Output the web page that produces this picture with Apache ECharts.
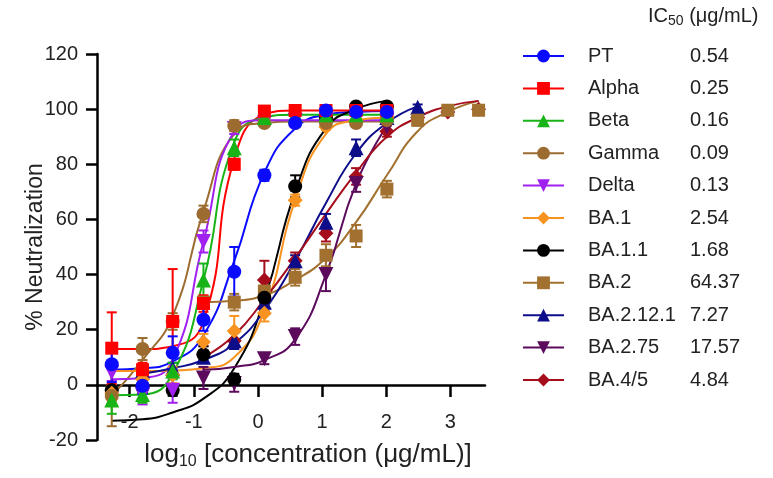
<!DOCTYPE html>
<html>
<head>
<meta charset="utf-8">
<script src="https://cdn.jsdelivr.net/npm/echarts@6/dist/echarts.min.js"></script>
<style>
  html, body { margin: 0; padding: 0; background: #fff; }
  #chart { width: 773px; height: 478px; }
</style>
</head>
<body>
<div id="chart"></div>
<script>
const variants = ['PT', 'Alpha', 'Beta', 'Gamma', 'Delta', 'BA.1', 'BA.1.1', 'BA.2', 'BA.2.12.1', 'BA.2.75', 'BA.4/5']
const ic50 = ['0.54', '0.25', '0.16', '0.09', '0.13', '2.54', '1.68', '64.37', '7.27', '17.57', '4.84']
const xTicks = [-2, -1, 0, 1, 2, 3]

// log10 concentrations (3-fold dilutions)
const xLow = [-2.28, -1.80, -1.33, -0.85, -0.37, 0.10, 0.58, 1.06, 1.53, 2.01]
const xMid = [-1.80, -1.33, -0.85, -0.37, 0.10, 0.58, 1.06, 1.53, 2.01, 2.49]
const xHigh = [-0.85, -0.37, 0.10, 0.58, 1.06, 1.53, 2.01, 2.49, 2.96, 3.44]
const xBA275 = [-0.85, -0.37, 0.10, 0.58, 1.06, 1.53, 2.01]

const ptMean = [7.5, -0.3, 11.6, 23.6, 41, 76, 95, 99.5, 99, 99]
const ptSd = [6.5, 3, 6, 4, 9, 2, 1.5, 1, 1, 1]
const ptFit = [5.5, 6, 8.5, 18, 45, 77, 93, 98, 99, 99.3]

const alphaMean = [13.3, 5.5, 23, 29.5, 80, 99.3, 99.5, 99.5, 99.5, 99.5]
const alphaSd = [13, 2.5, 19, 3, 2, 1, 1, 1, 1, 1]
const alphaFit = [13, 13, 14, 23, 82, 98, 99.5, 99.5, 99.5, 99.5]

const betaMean = [-5.5, -3.5, 5, 38, 86, 97, 98, 98, 98, 98]
const betaSd = [5, 3, 3, 6, 3, 1, 1, 1, 1, 1]
const betaFit = [-3.8, -3.5, 4, 38, 88, 97, 98, 98, 98, 98]

const gammaMean = [-4, 13, 23, 62, 94, 95, 95, 95, 95, 96]
const gammaSd = [11, 4, 3, 3, 2, 1, 1, 1, 1, 1]
const gammaFit = [-4, 9, 25, 63, 91, 95, 95.5, 95.5, 95.5, 95.5]

const deltaMean = [4.4, -3.6, -2, 52, 93, 95, 96, 96, 96, 96]
const deltaSd = [3, 3.5, 4.5, 4, 2, 1, 1, 1, 1, 1]
const deltaFit = [2, 2.5, 9, 52, 92, 96, 96, 96, 96, 96]

const ba1Mean = [-3, 2, 3.6, 15.5, 19.5, 26, 67, 93.5, 96, 97]
const ba1Sd = [3, 3, 3, 3, 5.5, 3, 2, 1, 1, 1]
const ba1Fit = [5, 5, 5.2, 6, 10, 27, 67, 91, 96, 97]

const ba11Mean = [-2, -1, -2, 11, 2, 31.6, 72, 97, 101, 101]
const ba11Sd = [2, 2, 2, 3, 2, 2, 4, 1, 1, 1]
const ba11Fit = [-13, -12.5, -10, -5, 6, 31, 70, 93, 100, 103]

const ba2Mean = [30, 30, 34, 39, 47, 54, 71, 96, 99.6, 99.6]
const ba2Sd = [2, 3, 2, 3, 4, 4, 3, 2, 1, 1]
const ba2Fit = [30, 30.5, 32.5, 38, 46, 59, 76, 92, 99, 103]

const ba2121Mean = [5, 6, 10, 16, 30, 45, 59, 86, 97, 100.7]
const ba2121Sd = [2, 2, 2, 3, 3, 2, 3, 3, 2, 1]
const ba2121Fit = [4, 6, 9, 15, 27, 45, 66, 84, 95, 101]

const ba275Mean = [2.5, 0.5, 9.5, 17.5, 40, 73, 93.5]
const ba275Sd = [4, 3, 2, 3, 6, 3, 2]
const ba275Fit = [5.5, 6.5, 9, 16.5, 40, 73, 94]

const ba45Mean = [11, 16, 38, 45, 55, 75.6, 92, 97, 99, 100]
const ba45Sd = [3, 3, 7, 3, 3, 3, 2, 1, 1, 1]
const ba45Fit = [10, 18, 31, 46, 62, 77, 90, 97, 101, 103]

const colors = ['#0a0aff', '#ff0000', '#17b317', '#9c6b30', '#a020f0', '#f7931e', '#000000', '#a2712f', '#0d0d8a', '#5c0a5c', '#a50d1d']
const symbols = ['circle', 'rect', 'triangle', 'circle', 'triangle', 'diamond', 'circle', 'rect', 'triangle', 'triangle', 'diamond']
const rotates = [0, 0, 0, 0, 180, 0, 0, 0, 0, 180, 0]
const sizes = [14, 13, 15, 14, 15, 15, 14, 13, 15, 15, 15]

const groups = [
  [xLow, ptMean, ptSd, ptFit],
  [xLow, alphaMean, alphaSd, alphaFit],
  [xLow, betaMean, betaSd, betaFit],
  [xLow, gammaMean, gammaSd, gammaFit],
  [xLow, deltaMean, deltaSd, deltaFit],
  [xLow, ba1Mean, ba1Sd, ba1Fit],
  [xLow, ba11Mean, ba11Sd, ba11Fit],
  [xHigh, ba2Mean, ba2Sd, ba2Fit],
  [xMid, ba2121Mean, ba2121Sd, ba2121Fit],
  [xBA275, ba275Mean, ba275Sd, ba275Fit],
  [xHigh, ba45Mean, ba45Sd, ba45Fit]
]

const font = '"Liberation Sans", Arial, sans-serif'

function renderError(params, api) {
  const x = api.value(0)
  const lo = api.coord([x, api.value(1)])
  const hi = api.coord([x, api.value(2)])
  const cap = 5
  const style = { stroke: api.visual('color'), lineWidth: 2 }
  return {
    type: 'group',
    children: [
      { type: 'line', shape: { x1: lo[0], y1: lo[1], x2: hi[0], y2: hi[1] }, style },
      { type: 'line', shape: { x1: hi[0] - cap, y1: hi[1], x2: hi[0] + cap, y2: hi[1] }, style },
      { type: 'line', shape: { x1: lo[0] - cap, y1: lo[1], x2: lo[0] + cap, y2: lo[1] }, style }
    ]
  }
}

const lineSeries = []
const errorSeries = []
const pointSeries = []
groups.forEach((g, i) => {
  const [xs, mean, sd, fit] = g
  const name = variants[i]
  lineSeries.push({
    type: 'line',
    name,
    data: xs.map((x, k) => [x, fit[k]]),
    smooth: 0.5,
    showSymbol: false,
    symbol: symbols[i],
    symbolRotate: rotates[i],
    symbolSize: sizes[i],
    lineStyle: { color: colors[i], width: 2 },
    itemStyle: { color: colors[i] },
    silent: true,
    z: 2
  })
  errorSeries.push({
    type: 'custom',
    name,
    renderItem: renderError,
    data: xs.map((x, k) => [x, mean[k] - sd[k], mean[k] + sd[k]]),
    encode: { x: 0, y: [1, 2] },
    itemStyle: { color: colors[i] },
    silent: true,
    z: 20 - i
  })
  pointSeries.push({
    type: 'scatter',
    name,
    data: xs.map((x, k) => [x, mean[k]]),
    symbol: symbols[i],
    symbolRotate: rotates[i],
    symbolSize: sizes[i],
    itemStyle: { color: colors[i], opacity: 1 },
    silent: true,
    z: 40 - i
  })
})

const chart = echarts.init(document.getElementById('chart'))
chart.setOption({
  animation: false,
  textStyle: { fontFamily: font },
  grid: { left: 97, right: 288, top: 54, bottom: 38, outerBoundsMode: 'none', containLabel: false },
  xAxis: {
    type: 'value',
    min: -2.51,
    max: 3.54,
    offset: -55,
    name: '{a|log}{s|10}{a| [concentration (μg/mL)]}',
    nameLocation: 'middle',
    nameGap: 55,
    nameMoveOverlap: false,
    nameTextStyle: {
      padding: [0, 0, 0, 34],
      rich: {
        a: { fontSize: 26, lineHeight: 30, color: '#222', fontFamily: font },
        s: { fontSize: 16, lineHeight: 12, verticalAlign: 'bottom', color: '#222', fontFamily: font }
      }
    },
    axisLine: { onZero: false, lineStyle: { color: '#000', width: 2.5 } },
    axisTick: { customValues: xTicks, length: 12, lineStyle: { color: '#000', width: 2.5 } },
    axisLabel: { customValues: xTicks, margin: 27, fontSize: 20, color: '#222', fontFamily: font },
    splitLine: { show: false }
  },
  yAxis: {
    type: 'value',
    min: -20,
    max: 120,
    interval: 20,
    name: '% Neutralization',
    nameLocation: 'middle',
    nameGap: 50,
    nameMoveOverlap: false,
    nameTextStyle: { fontSize: 23, color: '#222', fontFamily: font },
    axisLine: { onZero: false, lineStyle: { color: '#000', width: 2.5 } },
    axisTick: { length: 11, lineStyle: { color: '#000', width: 2.5 } },
    axisLabel: { margin: 19, fontSize: 20, color: '#222', fontFamily: font },
    splitLine: { show: false }
  },
  legend: {
    data: variants,
    orient: 'vertical',
    left: 522,
    top: 46,
    padding: 0,
    itemWidth: 41,
    itemHeight: 16,
    itemGap: 12.4,
    selectedMode: false,
    formatter: name => '{g| }{n|' + name + '}{v|' + ic50[variants.indexOf(name)] + '}',
    textStyle: {
      fontSize: 20,
      color: '#222',
      fontFamily: font,
      rich: {
        g: { width: 19, fontSize: 20, lineHeight: 20 },
        n: { width: 102, fontSize: 20, lineHeight: 20, color: '#222', fontFamily: font },
        v: { fontSize: 20, lineHeight: 20, color: '#222', fontFamily: font }
      }
    }
  },
  graphic: [{
    type: 'text',
    left: 648,
    top: 6,
    style: {
      text: '{a|IC}{s|50}{a| (μg/mL)}',
      rich: {
        a: { fontSize: 20, lineHeight: 24, fill: '#222', fontFamily: font },
        s: { fontSize: 14, lineHeight: 16, verticalAlign: 'bottom', fill: '#222', fontFamily: font }
      }
    }
  }],
  series: lineSeries.concat(errorSeries, pointSeries)
})
</script>
</body>
</html>
